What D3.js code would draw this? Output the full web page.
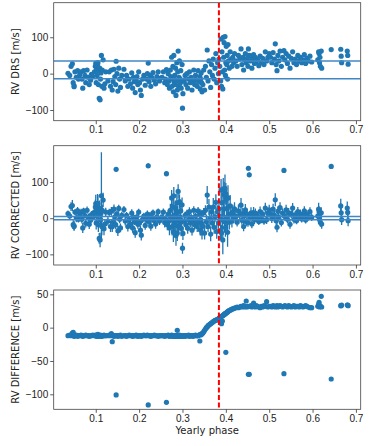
<!DOCTYPE html>
<html>
<head>
<meta charset="utf-8">
<script src="https://cdn.jsdelivr.net/npm/d3@7"></script>
<style>
  body { margin: 0; background: #fff; }
  svg { display: block; font-family: "DejaVu Sans", sans-serif; }
  .tick text { font-size: 10px; fill: #222; }
</style>
</head>
<body>
<div id="chart"></div>
<script>
// observation phases (shared by the three panels)
var phase = [
  0.036, 0.040, 0.043, 0.046, 0.048, 0.050, 0.050, 0.052, 0.055, 0.058, 0.060, 0.063,
  0.066, 0.068, 0.070, 0.072, 0.075, 0.077, 0.080, 0.083, 0.085, 0.088, 0.090, 0.093,
  0.097, 0.099, 0.100, 0.101, 0.102, 0.103, 0.104, 0.105, 0.106, 0.107, 0.108, 0.109, 0.110, 0.111, 0.112, 0.113, 0.114, 0.115, 0.117, 0.119, 0.121, 0.123,
  0.128, 0.131, 0.134, 0.136, 0.138, 0.140, 0.142, 0.144, 0.146, 0.147, 0.149, 0.151, 0.153, 0.155, 0.157, 0.160,
  0.165, 0.168, 0.171, 0.174, 0.177, 0.180, 0.183, 0.185, 0.187, 0.189, 0.191, 0.193, 0.195, 0.197, 0.199, 0.201, 0.203, 0.205, 0.208, 0.211, 0.214,
  0.217, 0.219, 0.221, 0.223, 0.225, 0.227, 0.229, 0.232, 0.235, 0.238, 0.241, 0.244, 0.247, 0.250,
  0.253, 0.256, 0.259, 0.261, 0.263, 0.265, 0.267, 0.269, 0.270, 0.272, 0.273, 0.275, 0.276, 0.277, 0.278, 0.279, 0.280, 0.281, 0.282, 0.283, 0.284, 0.285, 0.286, 0.287, 0.288, 0.289, 0.290, 0.291, 0.292, 0.293, 0.294, 0.295, 0.296, 0.297, 0.298, 0.299, 0.300, 0.301,
  0.304, 0.306, 0.308, 0.310, 0.312, 0.314, 0.316, 0.318, 0.320, 0.322, 0.324, 0.326, 0.328, 0.330, 0.332, 0.334, 0.336, 0.338, 0.340, 0.341, 0.342, 0.343, 0.344, 0.345,
  0.347, 0.349, 0.351, 0.353, 0.355, 0.357, 0.359, 0.361, 0.363, 0.365, 0.367, 0.369, 0.371, 0.373, 0.375, 0.377, 0.379, 0.381, 0.383, 0.384,
  0.386, 0.388, 0.389, 0.390, 0.391, 0.392, 0.393, 0.394, 0.395, 0.396, 0.397, 0.398, 0.399, 0.400, 0.401, 0.402, 0.403, 0.404, 0.405, 0.406, 0.408, 0.410, 0.412, 0.414, 0.416, 0.418, 0.420,
  0.423, 0.426, 0.429, 0.432, 0.435, 0.437, 0.439, 0.441, 0.443, 0.445, 0.447, 0.449, 0.451, 0.452, 0.454, 0.456, 0.458, 0.460, 0.462, 0.464, 0.466, 0.468, 0.470, 0.473, 0.476, 0.479, 0.482, 0.485, 0.488, 0.491, 0.494, 0.497, 0.500,
  0.503, 0.506, 0.509, 0.512, 0.514, 0.516, 0.518, 0.520, 0.522, 0.525, 0.528, 0.531, 0.534, 0.536, 0.539, 0.542, 0.545, 0.548, 0.551, 0.554, 0.557, 0.560, 0.563, 0.566, 0.569, 0.572, 0.575, 0.578, 0.581, 0.584, 0.587, 0.590, 0.594, 0.598,
  0.612, 0.614, 0.615, 0.616, 0.617, 0.618, 0.620, 0.621, 0.643, 0.665, 0.666, 0.667, 0.680, 0.681, 0.682
];

var rvDrs = [
  1, -5, 20, 27, -25, -33, -36, 5, -10, 8, -15, -3,
  5, -15, -40, 8, -5, -25, 10, -10, -30, -18, -2, -8,
  5, 20, 28, -25, 12, -5, 25, 30, -30, 8, -68, 15, -72, -15, 2, 50, -35, 10, 38, -40, -28, 5,
  -20, 5, -35, 10, -45, -22, 12, -8, -30, 34, 0, -48, 15, -15, -38, -5,
  12, -20, -5, -35, -15, -28, 2, -40, -10, -22, -52, -18, -8, -30, 5, -25, -45, -60, -15, -5, -32,
  -15, 0, 29, -22, -5, -35, -10, 3, -18, -28, -8, 5, -20, -12,
  -10, 5, -25, -15, 11, -30, 0, -20, -40, 10, -8, 45, -35, -15, 20, -50, 50, -25, -5, -30, 15, -60, -20, 30, -45, 5, 62, -35, -10, 35, -28, -15, 8, -40, -22, 25, -95, -55,
  -20, -5, -30, 0, -40, -15, 5, -25, -10, -45, -20, 10, -30, -5, -18, -35, 8, -22, -8, -42, -15, 2, -25, -50,
  -30, 10, -45, 20, -10, 65, -20, 35, 5, -38, 25, -5, 40, -15, 15, 55, -25, 30, 0, 40,
  20, -20, 95, -35, 60, 5, -42, 100, 45, 85, 10, 102, -5, 30, 75, 25, 50, -15, 80, 35, 15, 60, 40, 20, 45, 30, 55,
  35, 20, 50, 40, 68, 25, 45, 10, 38, 55, 30, 42, 20, 68, 50, 35, 48, 15, 40, 52, 28, 45, 32, 38, 22, 48, 30, 42, 25, 60, 35, 45, 55,
  45, 30, 58, 40, 82, 25, 8, 50, 35, 62, 20, 45, 63, 38, 55, 28, 48, 15, 42, 60, 30, 40, 25, 50, 35, 45, 30, 38, 52, 28, 42, 35, 48, 32,
  38, 60, 55, 30, 45, 20, 62, 15, 66, 67, 48, 30, 62, 50, 26
];

var rvCorrected = [
  13, 6, 32, 35, -18, -21, -23, 17, 1, 21, -3, 9,
  16, -3, -27, 20, 7, -14, 22, 2, -17, -6, 10, 3,
  17, 31, 40, -13, 25, 6, 37, 40, -18, 21, -56, 27, -60, -4, 14, 62, -22, 22, 50, -29, -16, 17,
  -8, 16, -23, 19, -24, -10, 25, 4, -18, 135, 12, -35, 27, -3, -27, 8,
  24, -8, 8, -23, -4, -16, 14, -27, 2, -10, -40, -7, 4, -17, 17, -13, -33, -47, -3, 6, -20,
  -3, 11, 145, -10, 7, -22, 2, 15, -7, -16, 4, 18, -8, 0,
  2, 17, -12, -3, 123, -18, 11, -8, -27, 22, 4, 56, -23, -2, 32, -38, 62, -13, 8, -18, 27, -48, -7, 42, -41, 17, 74, -22, 2, 46, -16, -2, 20, -28, -9, 37, -83, -42,
  -8, 8, -18, 12, -28, -4, 18, -13, 2, -33, -7, 22, -18, 6, -6, -23, 20, -11, 12, -32, -4, 12, -15, -41,
  -22, 16, -41, 22, -10, 64, -23, 31, 0, -44, 18, -13, 31, -25, 4, 44, -37, 18, -13, 26,
  5, -36, 78, -41, 43, -5, -60, 81, 26, 65, -10, 81, -26, 67, 53, 2, 27, -39, 56, 10, -11, 34, 13, -8, 17, 1, 26,
  5, -11, 20, 9, 36, -6, 13, -23, 7, 23, -10, 11, -12, 138, 120, 3, 15, -16, 8, 15, -4, 14, -1, 6, -9, 18, -2, 11, -8, 28, -4, 14, 23,
  13, -1, 25, 8, 51, -7, -25, 19, 3, 29, -12, 14, 132, 5, 23, -3, 15, -17, 11, 28, -3, 9, -7, 18, 4, 12, -2, 7, 20, -5, 10, 4, 18, 2,
  6, 25, 17, -1, 12, -12, 15, -16, 143, 34, 15, -4, 28, 16, -7
];

var rvCorrectedErr = [
  8, 10, 12, 15, 12, 14, 10, 8, 12, 10, 9, 11,
  10, 12, 14, 9, 8, 12, 10, 11, 13, 9, 10, 8,
  15, 20, 25, 18, 22, 15, 30, 25, 20, 15, 15, 22, 20, 25, 18, 120, 25, 15, 20, 18, 14, 12,
  12, 10, 15, 12, 14, 11, 13, 10, 12, 6, 9, 14, 10, 11, 12, 10,
  10, 12, 9, 14, 10, 12, 11, 13, 10, 9, 14, 11, 10, 12, 9, 11, 13, 15, 10, 9, 12,
  11, 10, 7, 12, 10, 13, 11, 9, 12, 13, 10, 9, 11, 10,
  12, 10, 14, 11, 7, 15, 12, 14, 20, 18, 15, 22, 25, 20, 25, 28, 24, 22, 20, 25, 22, 28, 20, 25, 22, 18, 20, 25, 22, 20, 18, 15, 20, 22, 18, 20, 15, 18,
  12, 10, 14, 11, 15, 10, 12, 13, 10, 15, 12, 11, 14, 10, 12, 15, 11, 12, 13, 16, 12, 11, 14, 18,
  15, 12, 18, 14, 20, 25, 15, 22, 18, 20, 15, 14, 25, 18, 15, 22, 20, 18, 15, 20,
  20, 25, 30, 22, 35, 25, 40, 30, 25, 35, 30, 40, 25, 30, 35, 28, 30, 40, 35, 25, 20, 30, 22, 18, 20, 15, 18,
  15, 12, 18, 14, 20, 12, 15, 13, 12, 16, 12, 14, 12, 6, 6, 13, 15, 12, 14, 16, 12, 13, 11, 12, 10, 14, 12, 11, 10, 15, 12, 13, 14,
  14, 12, 15, 13, 18, 12, 14, 13, 12, 15, 11, 13, 6, 12, 14, 11, 13, 12, 11, 14, 12, 11, 10, 13, 11, 12, 10, 11, 13, 10, 12, 11, 12, 10,
  15, 18, 15, 12, 14, 12, 15, 13, 6, 20, 18, 15, 18, 16, 15
];

var rvDifference = [
  -12, -11, -12, -8, -7, -12, -13, -12, -11, -13, -12, -12,
  -11, -12, -13, -12, -12, -11, -12, -12, -13, -12, -12, -11,
  -12, -11, -12, -12, -13, -11, -12, -10, -12, -13, -12, -12, -12, -11, -12, -12, -13, -12, -12, -11, -12, -12,
  -12, -11, -12, -9, -21, -12, -13, -12, -12, -101, -12, -13, -12, -12, -11, -13,
  -12, -12, -13, -12, -11, -12, -12, -13, -12, -12, -12, -11, -12, -13, -12, -12, -12, -13, -12, -11, -12,
  -12, -11, -116, -12, -12, -13, -12, -12, -11, -12, -12, -13, -12, -12,
  -12, -12, -13, -12, -112, -12, -11, -12, -13, -12, -12, -11, -12, -13, -12, -12, -12, -12, -13, -12, -12, -12, -13, -12, -4, -12, -12, -13, -12, -11, -12, -13, -12, -12, -13, -12, -12, -13,
  -12, -13, -12, -12, -12, -11, -13, -12, -12, -12, -13, -12, -12, -11, -12, -12, -12, -11, -20, -10, -11, -10, -10, -9,
  -8, -6, -4, -2, 0, 1, 3, 4, 5, 6, 7, 8, 9, 10, 11, 11, 12, 12, 13, 14,
  15, 16, 17, 6, 17, 10, 18, 19, 19, 20, 20, 21, 21, -37, 22, 23, 23, 24, 24, 25, 26, 26, 27, 28, 28, 29, 29,
  30, 31, 30, 31, 32, 31, 32, 33, 31, 32, 40, 31, 32, -70, -70, 32, 33, 31, 32, 37, 32, 31, 33, 32, 31, 30, 32, 31, 33, 32, 39, 31, 32,
  32, 31, 33, 32, 31, 32, 33, 31, 32, 33, 32, 31, -69, 33, 32, 31, 33, 32, 31, 32, 33, 31, 32, 32, 31, 33, 32, 31, 32, 33, 32, 31, 30, 30,
  32, 35, 38, 31, 33, 32, 47, 31, -77, 33, 33, 34, 34, 34, 33
];

// reference levels and the marked phase
var drsLevels = [35, -14];
var corrLevels = [4.5, -4.5];
var markPhase = 0.384;

var xTicks = [0.1, 0.2, 0.3, 0.4, 0.5, 0.6, 0.7];
var yTicksRv = [-100, 0, 100];
var yTicksDiff = [-100, -50, 0, 50];

var W = 374, H = 446;
var left = 53.7, right = 360.7;
var blue = "#1f77b4";

var svg = d3.select("#chart").append("svg")
  .attr("width", W)
  .attr("height", H);

var x = d3.scaleLinear().domain([0.003, 0.711]).range([left, right]);

var panels = [
  { label: "RV DRS [m/s]", values: rvDrs, top: 2.7, bottom: 120.7, domain: [-129.4, 195], ticks: yTicksRv, levels: drsLevels },
  { label: "RV CORRECTED [m/s]", values: rvCorrected, err: rvCorrectedErr, top: 145.7, bottom: 265, domain: [-129.4, 200.4], ticks: yTicksRv, levels: corrLevels },
  { label: "RV DIFFERENCE [m/s]", values: rvDifference, top: 290, bottom: 409.3, domain: [-122.5, 56.5], ticks: yTicksDiff, levels: [] }
];

var fmtX = function (d) { return d3.format(".1f")(d); };
var fmtY = function (d) { return d < 0 ? "\u2212" + Math.abs(d) : String(d); };

panels.forEach(function (p) {
  var y = d3.scaleLinear().domain(p.domain).range([p.bottom, p.top]);
  var g = svg.append("g");

  var clipId = "clip" + Math.round(p.top);
  g.append("clipPath").attr("id", clipId)
    .append("rect")
    .attr("x", left).attr("y", p.top)
    .attr("width", right - left).attr("height", p.bottom - p.top);

  var plot = g.append("g").attr("clip-path", "url(#" + clipId + ")");

  // error bars first, markers on top
  if (p.err) {
    plot.selectAll("line.err")
      .data(phase)
      .enter().append("line")
      .attr("class", "err")
      .attr("x1", function (d) { return x(d); })
      .attr("x2", function (d) { return x(d); })
      .attr("y1", function (d, i) { return y(p.values[i] - p.err[i]); })
      .attr("y2", function (d, i) { return y(p.values[i] + p.err[i]); })
      .attr("stroke", blue)
      .attr("stroke-width", 1.3);
  }

  plot.selectAll("circle")
    .data(phase)
    .enter().append("circle")
    .attr("cx", function (d) { return x(d); })
    .attr("cy", function (d, i) { return y(p.values[i]); })
    .attr("r", 2.6)
    .attr("fill", blue);

  p.levels.forEach(function (v) {
    plot.append("line")
      .attr("x1", left).attr("x2", right)
      .attr("y1", y(v)).attr("y2", y(v))
      .attr("stroke", "#3f88c5")
      .attr("stroke-width", 1.5);
  });

  plot.append("line")
    .attr("x1", x(markPhase)).attr("x2", x(markPhase))
    .attr("y1", p.top).attr("y2", p.bottom)
    .attr("stroke", "red")
    .attr("stroke-width", 2)
    .attr("stroke-dasharray", "5,2.5");

  // axes
  var xAxis = d3.axisBottom(x).tickValues(xTicks).tickFormat(fmtX).tickSize(3.5).tickPadding(2);
  var yAxis = d3.axisLeft(y).tickValues(p.ticks).tickFormat(fmtY).tickSize(3.5).tickPadding(2);

  var gx = g.append("g").attr("transform", "translate(0," + p.bottom + ")").call(xAxis);
  var gy = g.append("g").attr("transform", "translate(" + left + ",0)").call(yAxis);
  [gx, gy].forEach(function (a) {
    a.select(".domain").remove();
    a.selectAll(".tick line").attr("stroke", "#333").attr("stroke-width", 0.8);
  });

  g.append("rect")
    .attr("x", left).attr("y", p.top)
    .attr("width", right - left).attr("height", p.bottom - p.top)
    .attr("fill", "none")
    .attr("stroke", "#444")
    .attr("stroke-width", 0.8);

  g.append("text")
    .attr("transform", "translate(15," + ((p.top + p.bottom) / 2) + ") rotate(-90)")
    .attr("text-anchor", "middle")
    .attr("dominant-baseline", "central")
    .attr("font-size", 10)
    .attr("fill", "#222")
    .text(p.label);
});

svg.append("text")
  .attr("x", (left + right) / 2)
  .attr("y", 430)
  .attr("text-anchor", "middle")
  .attr("dominant-baseline", "central")
  .attr("font-size", 10)
  .attr("fill", "#222")
  .text("Yearly phase");
</script>
</body>
</html>
